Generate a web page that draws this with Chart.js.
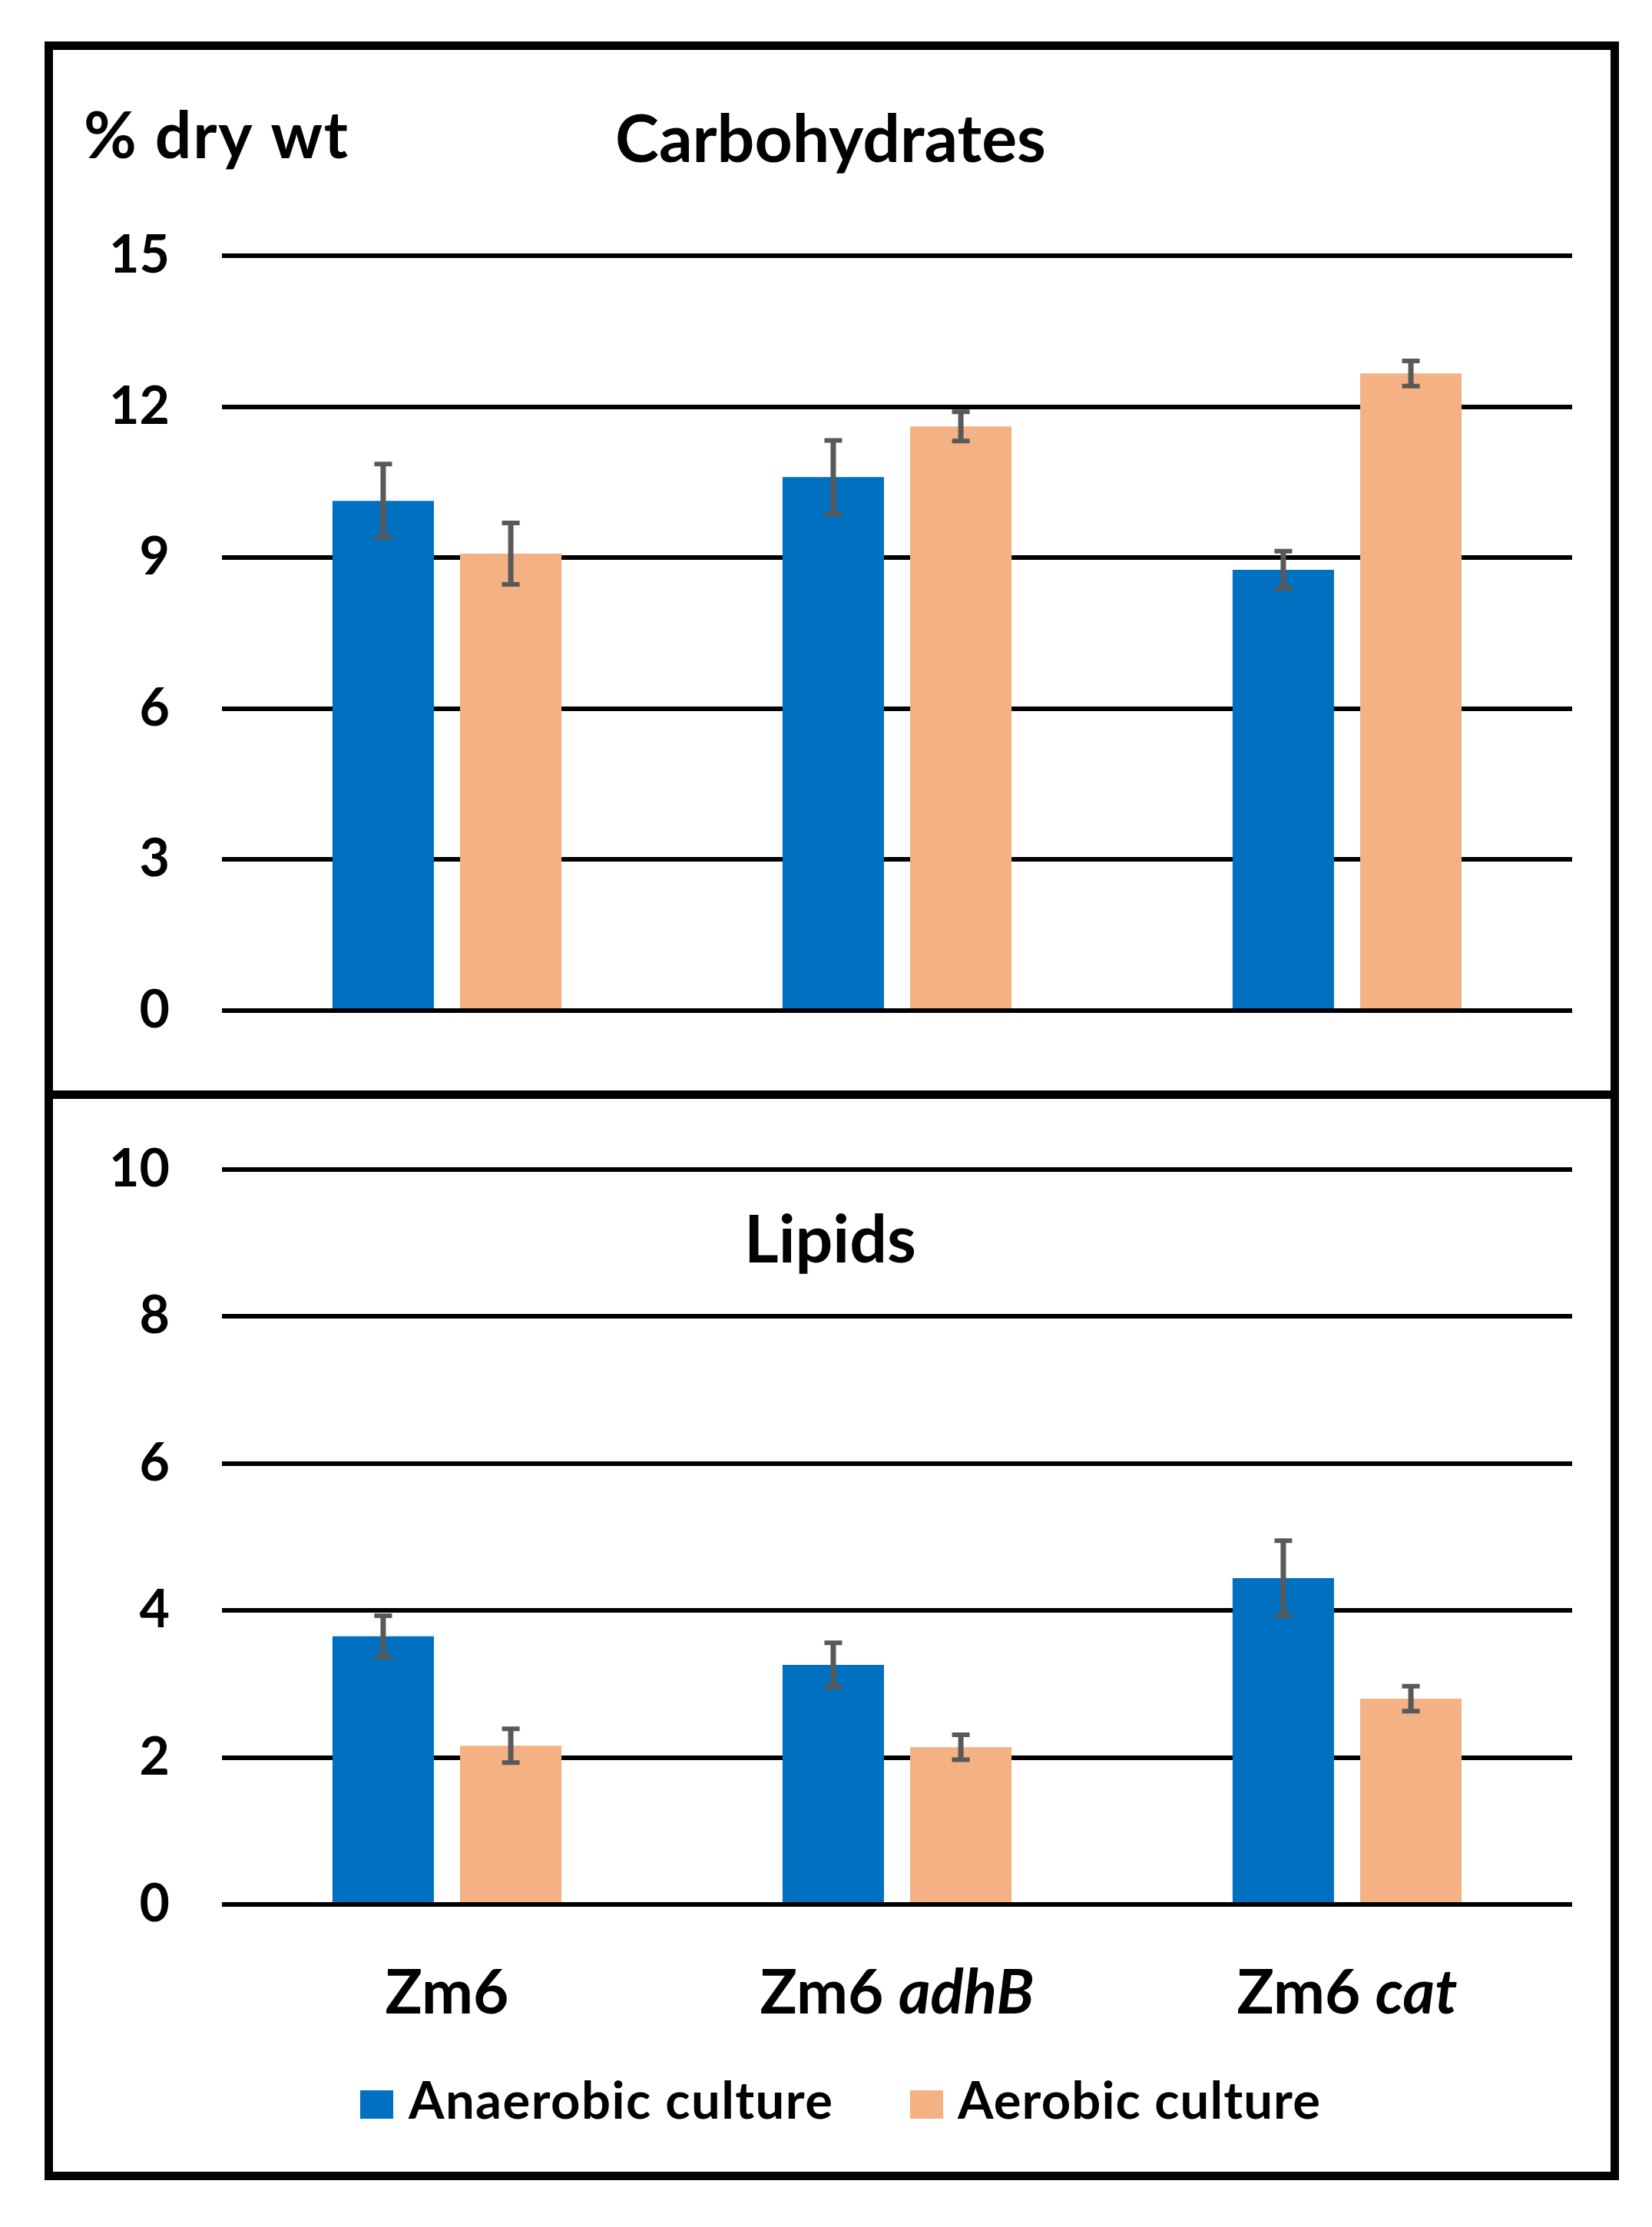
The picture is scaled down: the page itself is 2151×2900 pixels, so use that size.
<!DOCTYPE html>
<html><head><meta charset="utf-8">
<script src="https://cdn.jsdelivr.net/npm/chart.js@4.4.1/dist/chart.umd.min.js"></script>
<style>
html,body{margin:0;padding:0;background:#fff;}
body{width:2151px;height:2900px;position:relative;overflow:hidden;}
#frame{position:absolute;left:58px;top:54px;width:2050px;height:2785px;border:11px solid #000;box-sizing:border-box;}
#divider{position:absolute;left:58px;top:1420px;width:2050px;height:11px;background:#000;}
canvas{position:absolute;}
#c1{left:69px;top:65px;width:2028px;height:1355px;}
#c2{left:69px;top:1431px;width:2028px;height:1397px;}
</style></head><body>
<div id="frame"></div><div id="divider"></div>
<canvas id="c1" width="2028" height="1355"></canvas>
<canvas id="c2" width="2028" height="1397"></canvas>
<script>
// ---------------- data ----------------
const categories = ["Zm6", "Zm6 adhB", "Zm6 cat"];
const seriesNames = ["Anaerobic culture", "Aerobic culture"];
const carbAnaerobic = [10.13, 10.6, 8.76];
const carbAnaerobicErr = [0.73, 0.73, 0.37];
const carbAerobic = [9.08, 11.61, 12.66];
const carbAerobicErr = [0.61, 0.29, 0.25];
const lipidAnaerobic = [3.65, 3.26, 4.44];
const lipidAnaerobicErr = [0.28, 0.3, 0.51];
const lipidAerobic = [2.16, 2.14, 2.8];
const lipidAerobicErr = [0.23, 0.17, 0.17];
const carbTickValues = [0, 3, 6, 9, 12, 15];
const lipidTickValues = [0, 2, 4, 6, 8, 10];
const carbTitle = "Carbohydrates";
const lipidTitle = "Lipids";
const yUnit = "% dry wt";

// ---------------- styles ----------------
const BLUE = '#0070C0', ORANGE = '#F4B183', ERR = '#595959';
const FONT = 'Lato, "Open Sans", sans-serif';

function fontStr(italic, size) { return (italic ? 'italic ' : '') + 'bold ' + size + 'px ' + FONT; }

function drawFitted(ctx, parts, left, baseline, size, width) {
  ctx.save();
  ctx.letterSpacing = '0px';
  let total = 0, n = 0;
  parts.forEach(p => { ctx.font = fontStr(p.italic, size); p.w = ctx.measureText(p.text).width; total += p.w; n += p.text.length; });
  const ls = (width != null && n > 1) ? (width - total) / (n - 1) : 0;
  ctx.letterSpacing = ls + 'px';
  ctx.textAlign = 'left'; ctx.textBaseline = 'alphabetic'; ctx.fillStyle = '#000';
  let x = left;
  parts.forEach(p => { ctx.font = fontStr(p.italic, size); ctx.fillText(p.text, x, baseline); x += p.w + ls * p.text.length; });
  ctx.restore();
  return total + ls * (n - 1);
}

function measureParts(ctx, parts, size) {
  ctx.save(); ctx.letterSpacing = '0px';
  let t = 0; parts.forEach(p => { ctx.font = fontStr(p.italic, size); t += ctx.measureText(p.text).width; });
  ctx.restore(); return t;
}

function splitLabel(lbl) {
  const i = lbl.indexOf(' ');
  if (i < 0) return [{text: lbl, italic: false}];
  return [{text: lbl.slice(0, i + 1), italic: false}, {text: lbl.slice(i + 1), italic: true}];
}

const errorBars = {
  id: 'errorBars',
  afterDatasetsDraw(chart) {
    const ctx = chart.ctx, y = chart.scales.y;
    chart.data.datasets.forEach((ds, di) => {
      const meta = chart.getDatasetMeta(di);
      meta.data.forEach((bar, i) => {
        const v = ds.data[i], e = ds.errors[i];
        const yt = y.getPixelForValue(v + e), yb = y.getPixelForValue(v - e);
        ctx.save();
        ctx.strokeStyle = ERR;
        ctx.lineWidth = 7;
        ctx.beginPath(); ctx.moveTo(bar.x, yt); ctx.lineTo(bar.x, yb); ctx.stroke();
        ctx.lineWidth = 6;
        ctx.beginPath();
        ctx.moveTo(bar.x - 11.5, yt); ctx.lineTo(bar.x + 11.5, yt);
        ctx.moveTo(bar.x - 11.5, yb); ctx.lineTo(bar.x + 11.5, yb);
        ctx.stroke();
        ctx.restore();
      });
    });
  }
};

function makeOptions(ticks, pad) {
  return {
    responsive: false, animation: false, devicePixelRatio: 1,
    layout: { padding: pad },
    plugins: { legend: { display: false }, tooltip: { enabled: false }, title: { display: false } },
    datasets: { bar: { categoryPercentage: 0.567, barPercentage: 0.795, borderWidth: 0 } },
    scales: {
      x: { display: false, grid: { display: false } },
      y: {
        min: ticks[0], max: ticks[ticks.length - 1],
        ticks: { stepSize: ticks[1] - ticks[0], color: '#000', padding: 68, font: { family: FONT, weight: 'bold', size: 68 } },
        grid: { color: '#000', lineWidth: 6, drawTicks: false },
        border: { display: false },
        afterFit(scale) { scale.width = 220; scale.paddingTop = 0; scale.paddingBottom = 0; }
      }
    }
  };
}

function ds(label, data, errors, color) {
  return { label: label, data: data, errors: errors, backgroundColor: color, borderWidth: 0 };
}

function build() {
  Chart.defaults.font.family = FONT;

  const topText = {
    id: 'topText',
    afterDraw(chart) {
      const ctx = chart.ctx;
      drawFitted(ctx, [{text: yUnit}], 40, 141, 84, 344);
      drawFitted(ctx, [{text: carbTitle}], 732, 146, 86, null);
    }
  };

  new Chart(document.getElementById('c1'), {
    type: 'bar',
    data: { labels: categories, datasets: [
      ds(seriesNames[0], carbAnaerobic, carbAnaerobicErr, BLUE),
      ds(seriesNames[1], carbAerobic, carbAerobicErr, ORANGE)
    ]},
    options: makeOptions(carbTickValues, { left: 0, right: 50, top: 268, bottom: 104 }),
    plugins: [errorBars, topText]
  });

  const bottomText = {
    id: 'bottomText',
    afterDraw(chart) {
      const ctx = chart.ctx, x = chart.scales.x;
      drawFitted(ctx, [{text: lipidTitle}], 900, 213, 86, null);
      // category labels
      categories.forEach((lbl, i) => {
        const parts = splitLabel(lbl);
        const w = measureParts(ctx, parts, 80);
        const cx = x.getPixelForValue(i);
        drawFitted(ctx, parts, cx - w / 2, 1191, 80, null);
      });
      // legend
      const items = [
        { sq: 400, txt: 463, w: 552 },
        { sq: 1116, txt: 1178, w: 472 }
      ];
      chart.data.datasets.forEach((d, i) => {
        const it = items[i];
        ctx.save();
        ctx.fillStyle = d.backgroundColor;
        ctx.fillRect(it.sq, 1291, 43, 37);
        ctx.restore();
        drawFitted(ctx, [{text: d.label}], it.txt, 1328, 67, it.w);
      });
    }
  };

  new Chart(document.getElementById('c2'), {
    type: 'bar',
    data: { labels: categories, datasets: [
      ds(seriesNames[0], lipidAnaerobic, lipidAnaerobicErr, BLUE),
      ds(seriesNames[1], lipidAerobic, lipidAerobicErr, ORANGE)
    ]},
    options: makeOptions(lipidTickValues, { left: 0, right: 50, top: 92, bottom: 348 }),
    plugins: [errorBars, bottomText]
  });
}

let built = false;
function go() { if (built) return; built = true; build(); }
Promise.all([
  document.fonts.load('bold 72px Lato'),
  document.fonts.load('italic bold 72px Lato')
]).then(go, go);
setTimeout(go, 1500);
</script>
</body></html>
